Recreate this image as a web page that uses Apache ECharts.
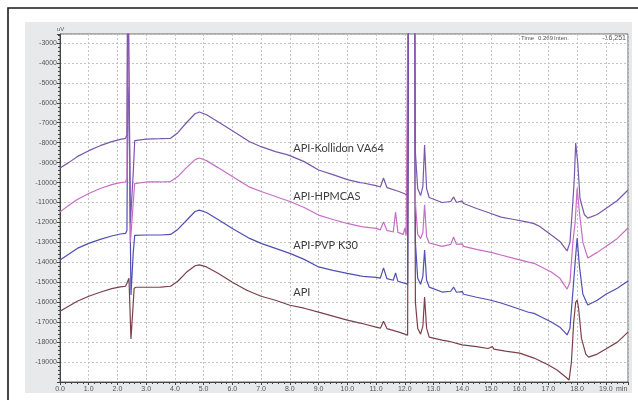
<!DOCTYPE html>
<html>
<head>
<meta charset="utf-8">
<script src="https://cdn.jsdelivr.net/npm/echarts@6/dist/echarts.min.js"></script>
<style>
  html, body { margin: 0; padding: 0; background: #ffffff; }
  #chart { width: 638px; height: 400px; }
</style>
</head>
<body>
<div id="chart"></div>
<script>
// Chromatogram traces: [time (min), signal (uV)]
const kollidonData = [
  [0.0, -9270], [0.3, -9000], [0.6, -8700], [1.0, -8400], [1.4, -8150], [1.8, -7950],
  [2.1, -7830], [2.28, -7780], [2.33, -7600], [2.36, 2000], [2.40, 2000], [2.45, -12000],
  [2.55, -9500], [2.60, -7900], [2.65, -7830], [3.0, -7820], [3.5, -7800], [3.85, -7780],
  [4.1, -7500], [4.4, -7000], [4.7, -6550], [4.85, -6460], [5.1, -6600], [5.5, -6950],
  [6.0, -7400], [6.6, -7950], [7.0, -8200], [7.5, -8450], [7.9, -8600], [7.95, -8500],
  [8.0, -8650], [8.5, -8950], [9.0, -9370], [9.5, -9600], [10.0, -9850], [10.45, -10000],
  [10.5, -9920], [10.55, -10020], [11.0, -10150], [11.15, -10220], [11.26, -9770],
  [11.38, -10250], [11.8, -10450], [12.1, -10620], [12.14, 5000], [12.33, 5000],
  [12.37, -8500], [12.45, -10300], [12.55, -10650], [12.63, -10200], [12.69, -8115],
  [12.76, -10300], [12.85, -10750], [13.3, -11000], [13.6, -10950], [13.7, -10720],
  [13.8, -11000], [14.0, -10920], [14.05, -11050], [14.5, -11300], [15.0, -11550],
  [15.35, -11730], [15.8, -11850], [16.28, -11980], [16.5, -12060], [16.7, -12200],
  [17.1, -12630], [17.4, -12950], [17.65, -13430], [17.75, -13000], [17.85, -11000],
  [17.9, -9800], [17.95, -8015], [18.02, -9000], [18.1, -10800], [18.25, -11600],
  [18.37, -11780], [18.7, -11600], [19.0, -11300], [19.4, -10900], [19.77, -10370]
];

const hpmcasData = [
  [0.0, -11470], [0.3, -11150], [0.6, -10850], [1.0, -10550], [1.4, -10300], [1.8, -10100],
  [2.1, -10000], [2.28, -9970], [2.33, -9800], [2.36, 2000], [2.40, 2000], [2.45, -13000],
  [2.55, -11000], [2.60, -10050], [2.65, -9980], [3.0, -9970], [3.5, -9970], [3.85, -9950],
  [4.1, -9700], [4.4, -9250], [4.7, -8850], [4.85, -8770], [5.1, -8900], [5.5, -9250],
  [6.0, -9700], [6.6, -10230], [7.0, -10450], [7.5, -10700], [7.9, -10900], [7.95, -10820],
  [8.0, -10950], [8.5, -11250], [9.0, -11630], [9.5, -11850], [10.0, -12050], [10.45, -12200],
  [10.5, -12120], [10.55, -12220], [11.0, -12300], [11.15, -12370], [11.26, -11980],
  [11.38, -12400], [11.6, -12480], [11.68, -11480], [11.76, -12500], [11.95, -12600],
  [12.0, -12280], [12.05, -12650], [12.1, -12730], [12.14, 5000], [12.33, 5000],
  [12.37, -11000], [12.45, -12600], [12.55, -12800], [12.63, -12500], [12.69, -11120],
  [12.76, -12700], [12.85, -13030], [13.3, -13200], [13.6, -13100], [13.7, -12730],
  [13.8, -13100], [14.0, -13070], [14.05, -13200], [14.5, -13350], [15.0, -13500],
  [15.35, -13630], [15.8, -13800], [16.28, -13980], [16.5, -14050], [16.7, -14200],
  [17.1, -14480], [17.4, -14800], [17.65, -15340], [17.75, -15000], [17.85, -13000],
  [17.93, -12000], [18.0, -10270], [18.08, -11500], [18.2, -13000], [18.37, -13780],
  [18.7, -13500], [19.0, -13200], [19.4, -12800], [19.77, -12280]
];

const pvpData = [
  [0.0, -13880], [0.3, -13600], [0.6, -13300], [1.0, -13050], [1.4, -12850], [1.8, -12680],
  [2.1, -12580], [2.28, -12550], [2.33, -12400], [2.36, -5200], [2.40, -6000], [2.47, -15640],
  [2.55, -13500], [2.60, -12650], [2.65, -12630], [3.0, -12630], [3.5, -12630], [3.85, -12600],
  [4.1, -12350], [4.4, -11900], [4.7, -11450], [4.85, -11380], [5.1, -11500], [5.5, -11850],
  [6.0, -12300], [6.6, -12800], [7.0, -13050], [7.5, -13300], [7.9, -13500], [7.95, -13400],
  [8.0, -13550], [8.5, -13850], [9.0, -14230], [9.5, -14400], [10.0, -14550], [10.45, -14680],
  [10.5, -14600], [10.55, -14700], [11.0, -14750], [11.15, -14790], [11.26, -14280],
  [11.38, -14820], [11.6, -14900], [11.68, -14530], [11.76, -14950], [12.1, -15090],
  [12.14, 5000], [12.33, 5000], [12.37, -13000], [12.45, -14800], [12.55, -15100],
  [12.63, -14700], [12.69, -13380], [12.76, -14900], [12.85, -15240], [13.3, -15490],
  [13.6, -15450], [13.7, -15240], [13.8, -15500], [14.0, -15470], [14.05, -15600],
  [14.5, -15750], [15.0, -15900], [15.35, -16040], [15.8, -16250], [16.28, -16490],
  [16.5, -16560], [16.7, -16700], [17.1, -16990], [17.4, -17250], [17.65, -17640],
  [17.75, -17300], [17.85, -15500], [17.93, -14000], [18.0, -12780], [18.08, -14200],
  [18.2, -15600], [18.37, -16140], [18.7, -15900], [19.0, -15600], [19.4, -15300],
  [19.77, -14940]
];

const apiData = [
  [0.0, -16450], [0.3, -16200], [0.6, -15950], [1.0, -15700], [1.4, -15500], [1.8, -15320],
  [2.1, -15230], [2.28, -15200], [2.33, -15050], [2.40, -14800], [2.47, -17840], [2.53, -16500],
  [2.58, -15300], [2.65, -15250], [3.0, -15250], [3.5, -15240], [3.85, -15200], [4.1, -14950],
  [4.4, -14500], [4.7, -14170], [4.85, -14130], [5.1, -14230], [5.5, -14550], [6.0, -15000],
  [6.5, -15400], [7.0, -15700], [7.5, -15900], [8.0, -16150], [8.5, -16300], [9.0, -16500],
  [9.5, -16700], [10.0, -16900], [10.45, -17050], [10.5, -16970], [10.55, -17080],
  [11.0, -17250], [11.15, -17300], [11.26, -16950], [11.38, -17320], [11.8, -17500],
  [12.1, -17650], [12.14, 5000], [12.33, 5000], [12.37, -16000], [12.45, -17300],
  [12.55, -17600], [12.63, -17200], [12.69, -15740], [12.76, -17300], [12.85, -17750],
  [13.3, -17900], [13.5, -17950], [13.55, -17870], [13.6, -17980], [14.0, -18140],
  [14.5, -18230], [14.9, -18320], [15.05, -18220], [15.1, -18350], [15.5, -18450],
  [16.0, -18550], [16.5, -18800], [17.0, -19150], [17.3, -19400], [17.6, -19750],
  [17.72, -19900], [17.8, -19000], [17.88, -17000], [17.95, -16000], [18.0, -15890],
  [18.05, -16300], [18.15, -17800], [18.3, -18600], [18.4, -18750], [18.7, -18600],
  [19.0, -18350], [19.4, -18000], [19.77, -17500]
];

const traceNames = ['API-Kollidon VA64', 'API-HPMCAS', 'API-PVP K30', 'API'];
const traceColors = ['#7a58aa', '#c86ec6', '#4f4fb4', '#7c4048'];
// Where each trace name is written: [time, signal]
const nameAnchors = [[8.12, -8270], [8.12, -10720], [8.12, -13130], [8.12, -15490]];

const xMin = 0, xMax = 19.77;
const yMin = -20000, yMax = -2550;

const chart = echarts.init(document.getElementById('chart'), null, { renderer: 'canvas' });

const traces = [kollidonData, hpmcasData, pvpData, apiData];

const series = traces.map((data, i) => ({
  name: traceNames[i],
  type: 'line',
  data: data,
  showSymbol: false,
  symbol: 'none',
  clip: true,
  lineStyle: { color: traceColors[i], width: 1.2 },
  itemStyle: { color: traceColors[i] },
  animation: false,
  z: 10 - i,
  markPoint: {
    symbol: 'circle',
    symbolSize: 0,
    silent: true,
    animation: false,
    data: [{
      coord: nameAnchors[i],
      label: {
        show: true,
        position: 'right',
        distance: 0,
        formatter: traceNames[i],
        color: '#3c3c3c',
        fontFamily: 'Lato',
        fontSize: 11
      }
    }]
  }
}));

const axisLabelStyle = { color: '#555', fontFamily: 'Liberation Sans', fontSize: 7 };

chart.setOption({
  backgroundColor: '#ffffff',
  animation: false,
  grid: {
    left: 60, right: 10, top: 34, bottom: 18,
    show: true, backgroundColor: '#ffffff', borderColor: '#6a6a6a', borderWidth: 1
  },
  xAxis: {
    type: 'value',
    min: xMin, max: xMax, interval: 1,
    axisLine: { show: true, onZero: false, lineStyle: { color: '#444', width: 1 } },
    axisTick: { show: true, length: 3, inside: false, lineStyle: { color: '#444' } },
    minorTick: { show: true, splitNumber: 5, length: 2, lineStyle: { color: '#444' } },
    splitLine: { show: true, lineStyle: { color: '#c4c4c4', type: [2, 2], width: 1 } },
    axisLabel: Object.assign({
      margin: 4, showMaxLabel: false,
      formatter: v => v.toFixed(1)
    }, axisLabelStyle)
  },
  yAxis: {
    type: 'value',
    min: yMin, max: yMax, interval: 1000,
    axisLine: { show: true, onZero: false, lineStyle: { color: '#444', width: 1 } },
    axisTick: { show: true, length: 3, inside: false, lineStyle: { color: '#444' } },
    minorTick: { show: true, splitNumber: 5, length: 2, lineStyle: { color: '#444' } },
    splitLine: { show: true, lineStyle: { color: '#c4c4c4', type: [2, 2], width: 1 } },
    axisLabel: Object.assign({
      margin: 3, showMinLabel: false, showMaxLabel: false,
      formatter: v => String(v)
    }, axisLabelStyle)
  },
  graphic: [
    {
      type: 'rect', z: -20, silent: true,
      shape: { x: 8, y: 8, width: 700, height: 500 },
      style: { fill: '#ffffff', stroke: '#1a1a1a', lineWidth: 1.6 }
    },
    {
      type: 'rect', z: -10, silent: true,
      shape: { x: 25, y: 22, width: 607, height: 371 },
      style: { fill: '#e8e9ea' }
    },
    {
      type: 'text', left: 57, top: 26, silent: true,
      style: { text: 'uV', fill: '#555', font: '6px "Liberation Sans"' }
    },
    {
      type: 'text', left: 616, top: 386, silent: true,
      style: { text: 'min', fill: '#555', font: '7px "Liberation Sans"' }
    },
    {
      type: 'text', left: 521, top: 35, silent: true,
      style: { text: 'Time', fill: '#555', font: '6px "Liberation Sans"' }
    },
    {
      type: 'text', left: 538, top: 35, silent: true,
      style: { text: '0.269', fill: '#555', font: '6px "Liberation Sans"' }
    },
    {
      type: 'text', left: 554, top: 35, silent: true,
      style: { text: 'Inten.', fill: '#555', font: '6px "Liberation Sans"' }
    },
    {
      type: 'text', right: 12, top: 35, silent: true,
      style: { text: '-16,251', fill: '#555', font: '7px "Liberation Sans"' }
    }
  ],
  series: series
});
</script>
</body>
</html>
